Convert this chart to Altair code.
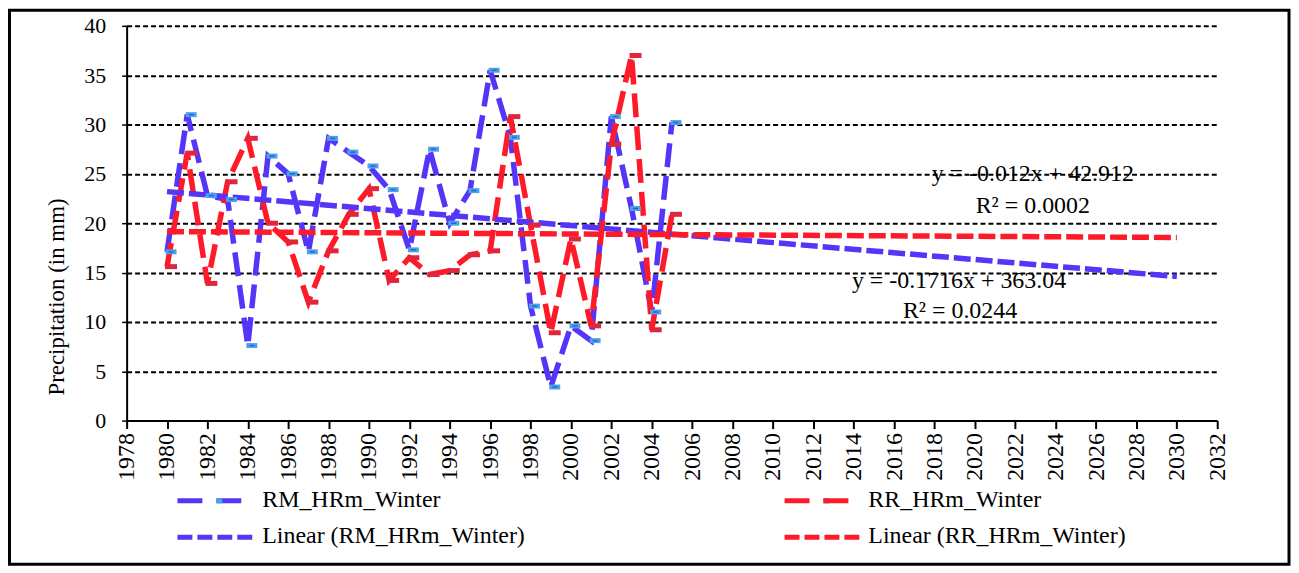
import altair as alt
import pandas as pd

# ---- data ----
years = list(range(1980, 2006))
rm_winter = [17.1, 31.0, 22.8, 22.4, 7.6, 26.8, 25.0, 17.1, 28.6, 27.2,
             25.8, 23.4, 17.3, 27.5, 20.0, 23.3, 35.5, 28.7, 11.6, 3.4,
             9.6, 8.1, 30.8, 21.5, 11.0, 30.2]
rr_winter = [15.6, 27.1, 13.9, 24.2, 28.6, 20.0, 18.1, 12.0, 17.2, 20.9,
             23.5, 14.2, 16.5, 14.8, 15.2, 16.8, 17.2, 30.8, 19.8, 8.9,
             18.4, 9.6, 28.0, 37.0, 9.2, 20.9]
trend_years = [1980, 2030]
rm_trend = [23.2, 14.6]
rr_trend = [19.15, 18.55]

series_names = ["RM_HRm_Winter", "RR_HRm_Winter",
                "Linear (RM_HRm_Winter)", "Linear (RR_HRm_Winter)"]
equations = ["y = -0.012x + 42.912", "R² = 0.0002",
             "y = -0.1716x + 363.04", "R² = 0.0244"]
y_title = "Precipitation (in mm)"
x_ticks = list(range(1978, 2033, 2))
y_ticks = list(range(0, 41, 5))

# ---- styles ----
BLUE = "#5535F8"
RED = "#FF1A2A"
MARK_BLUE = "#4AA3E6"
MARK_BLUE_IN = "#2F5FE0"
MARK_RED = "#E1253A"
SERIF = "Liberation Serif"

rm_df = pd.DataFrame({"year": years, "value": rm_winter})
rr_df = pd.DataFrame({"year": years, "value": rr_winter})
rmt_df = pd.DataFrame({"year": trend_years, "value": rm_trend})
rrt_df = pd.DataFrame({"year": trend_years, "value": rr_trend})

x_scale = alt.Scale(domain=[1978, 2032], nice=False, zero=False)
y_scale = alt.Scale(domain=[0, 40], nice=False)

x_enc = alt.X("year:Q", scale=x_scale,
              axis=alt.Axis(values=x_ticks, format="d", labelAngle=270,
                            title=None, grid=False, domainColor="black",
                            domainWidth=2, tickColor="black", tickWidth=2,
                            tickSize=8, labelFont=SERIF, labelFontSize=24,
                            labelColor="black", labelPadding=4,
                            labelOverlap=False, labelFlush=False))
y_enc = alt.Y("value:Q", scale=y_scale,
              axis=alt.Axis(values=y_ticks, title=None, grid=True,
                            gridColor="black", gridDash=[5, 3], gridWidth=2,
                            domainColor="black", domainWidth=2,
                            tickColor="black", tickWidth=1.5, tickSize=5,
                            labelFont=SERIF, labelFontSize=22,
                            labelColor="black", labelPadding=16,
                            labelOverlap=False))

base_rm = alt.Chart(rm_df).encode(x=x_enc, y=y_enc)

rm_line = base_rm.mark_line(color=BLUE, strokeWidth=5.5, strokeDash=[24, 9])
rr_line = alt.Chart(rr_df).mark_line(color=RED, strokeWidth=5.5,
                                     strokeDash=[24, 9]).encode(x="year:Q", y="value:Q")
rm_tr = alt.Chart(rmt_df).mark_line(color=BLUE, strokeWidth=5.5,
                                    strokeDash=[17, 5]).encode(x="year:Q", y="value:Q")
rr_tr = alt.Chart(rrt_df).mark_line(color=RED, strokeWidth=5.5,
                                    strokeDash=[17, 5]).encode(x="year:Q", y="value:Q")

rm_mk = alt.Chart(rm_df).mark_tick(orient="horizontal", color=MARK_BLUE,
                                   thickness=5, size=11, xOffset=4,
                                   opacity=1).encode(x="year:Q", y="value:Q")
rm_mk2 = alt.Chart(rm_df).mark_tick(orient="horizontal", color=MARK_BLUE_IN,
                                    thickness=1.5, size=5, xOffset=4,
                                    opacity=1).encode(x="year:Q", y="value:Q")
rr_mk = alt.Chart(rr_df).mark_tick(orient="horizontal", color=MARK_RED,
                                   thickness=5, size=12, xOffset=4,
                                   opacity=1).encode(x="year:Q", y="value:Q")

# ---- border around the whole figure ----
one = pd.DataFrame({"k": [0]})
border = alt.Chart(one).mark_rect(fillOpacity=0, stroke="black",
                                  strokeWidth=3).encode(
    x=alt.value(-117.5), x2=alt.value(1166), y=alt.value(-15.5), y2=alt.value(540))

# ---- y axis title ----
ytitle = alt.Chart(pd.DataFrame({"t": [y_title]})).mark_text(
    angle=270, font=SERIF, fontSize=23, color="black", align="center",
    baseline="middle").encode(x=alt.value(-70), y=alt.value(272), text="t:N")

# ---- equations ----
def txt(s, x, y, size=23, align="center"):
    return alt.Chart(pd.DataFrame({"t": [s]})).mark_text(
        font=SERIF, fontSize=size, color="black", align=align,
        baseline="alphabetic").encode(x=alt.value(x), y=alt.value(y), text="t:N")

eqs = [txt(equations[0], 909, 156, 24), txt(equations[1], 909, 188, 24),
       txt(equations[2], 835, 263, 24), txt(equations[3], 836, 293, 24)]

# ---- legend (2 x 2) ----
def sym(x1, x2, y, color, dash):
    return alt.Chart(one).mark_rule(color=color, strokeWidth=5,
                                    strokeDash=dash, strokeCap="butt").encode(
        x=alt.value(x1), x2=alt.value(x2), y=alt.value(y))

def dot(x1, x2, y, color):
    return alt.Chart(one).mark_rule(color=color, strokeWidth=5,
                                    strokeCap="butt").encode(
        x=alt.value(x1), x2=alt.value(x2), y=alt.value(y))

legend = [
    sym(51, 116, 476.5, BLUE, [25, 14]), dot(90, 96, 476.5, MARK_BLUE),
    txt(series_names[0], 136, 483, 24, "left"),
    sym(660, 724, 476.5, RED, [25, 14]), dot(699, 705, 476.5, MARK_RED),
    txt(series_names[1], 744, 483, 24, "left"),
    sym(51, 128, 513, BLUE, [15, 5]),
    txt(series_names[2], 136, 519, 24, "left"),
    sym(660, 736, 513, RED, [15, 5]),
    txt(series_names[3], 744, 519, 24, "left"),
]

chart = alt.layer(
    rm_line, rr_line, rm_tr, rr_tr, rm_mk, rm_mk2, rr_mk,
    border, ytitle, *eqs, *legend
).properties(
    width=1094, height=396,
    padding={"left": 119, "top": 17, "right": 74, "bottom": 147},
    autosize=alt.AutoSizeParams(type="none"),
    background="white",
).configure_view(stroke="transparent")

chart.save("out.html", embed_options={"renderer": "svg", "actions": False})
